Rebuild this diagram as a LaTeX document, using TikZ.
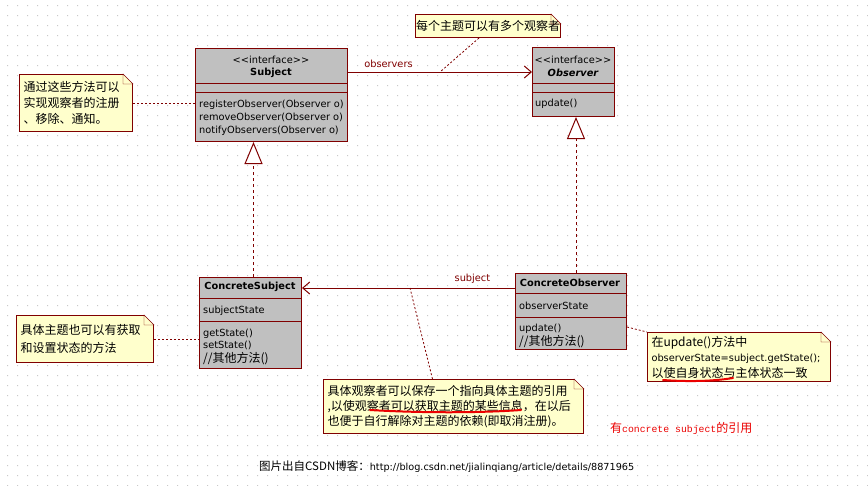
\documentclass[tikz,border=0pt]{standalone}
\usepackage{fontspec}
\newfontfamily\umlfont{DejaVu Sans}
\newfontfamily\cjk{Noto Sans CJK SC}
\newfontfamily\monofont{Liberation Mono}
\usetikzlibrary{arrows.meta, calc}
\definecolor{umlred}{RGB}{128, 0, 0}
\definecolor{umlgray}{RGB}{192, 192, 192}
\definecolor{noteyellow}{RGB}{255, 255, 204}
\definecolor{griddot}{RGB}{200, 200, 200}
\definecolor{hlred}{RGB}{235, 0, 0}

% 便签右上角折角
\newcommand{\notefold}[1]{%
  \fill[white] ($(#1.north east)+(-10,0)$) -- (#1.north east) -- ($(#1.north east)+(0,10)$) -- cycle;
  \draw[umlred] ($(#1.north east)+(-10,0)$) -- ($(#1.north east)+(0,10)$) -- ($(#1.north east)+(-10,10)$) -- cycle;
}

\begin{document}
\begin{tikzpicture}[x=1pt, y=-1pt,
  cls/.style={draw=umlred, fill=umlgray, line width=1pt, anchor=north west, inner sep=0pt},
  lbl/.style={font=\umlfont\fontsize{9.8}{13}\selectfont, inner sep=0pt},
  op/.style={lbl, anchor=base west},
  note/.style={draw=umlred, fill=noteyellow, line width=1pt, anchor=north west, align=left,
    inner xsep=4pt, inner ysep=0pt, font=\cjk\fontsize{12}{16}\selectfont},
  assoc/.style={umlred, line width=1pt, -{Straight Barb[length=7pt, width=12pt]}},
  realize/.style={umlred, line width=1pt, dash pattern=on 3pt off 3pt,
    -{Triangle[open, length=22pt, width=18pt, fill=white]}},
  notelink/.style={umlred, line width=0.8pt, dash pattern=on 2pt off 2pt},
]
  \useasboundingbox (0,0) rectangle (868,485);
  % 背景点阵
  \fill[griddot] \foreach \gx in {7,17,...,867} {\foreach \gy in {5,15,...,485} {(\gx,\gy) rectangle ++(1,1)}};

  % Subject 接口
  \node[cls, minimum width=152pt, minimum height=93pt] (subj) at (195,48) {};
  \draw[umlred] ($(subj.north west)+(0,35)$) -- ($(subj.north east)+(0,35)$);
  \draw[umlred] ($(subj.north west)+(0,44)$) -- ($(subj.north east)+(0,44)$);
  \node[lbl] (subj-st) at (271,60) {<<interface>>};
  \node[lbl, font=\umlfont\bfseries\fontsize{9.8}{13}\selectfont] (subj-nm) at (271,73) {Subject};
  \node[op] (subj-op1) at (199,107) {registerObserver(Observer o)};
  \node[op] (subj-op2) at (199,120) {removeObserver(Observer o)};
  \node[op] (subj-op3) at (199,133) {notifyObservers(Observer o)};

  % Observer 接口
  \node[cls, minimum width=82pt, minimum height=69pt] (obs) at (532,47) {};
  \draw[umlred] ($(obs.north west)+(0,36)$) -- ($(obs.north east)+(0,36)$);
  \draw[umlred] ($(obs.north west)+(0,45)$) -- ($(obs.north east)+(0,45)$);
  \node[lbl] (obs-st) at (573,60) {<<interface>>};
  \node[lbl, font=\umlfont\bfseries\itshape\fontsize{9.8}{13}\selectfont] (obs-nm) at (573,73) {Observer};
  \node[op] (obs-op1) at (535,106) {update()};

  % ConcreteSubject
  \node[cls, minimum width=102pt, minimum height=91pt] (csubj) at (199,277) {};
  \draw[umlred] ($(csubj.north west)+(0,21)$) -- ($(csubj.north east)+(0,21)$);
  \draw[umlred] ($(csubj.north west)+(0,44)$) -- ($(csubj.north east)+(0,44)$);
  \node[lbl, font=\umlfont\bfseries\fontsize{9.8}{13}\selectfont] (csubj-nm) at (250,287) {ConcreteSubject};
  \node[op] (csubj-at) at (203,313) {subjectState};
  \node[op] (csubj-op1) at (203,336) {getState()};
  \node[op] (csubj-op2) at (203,348) {setState()};
  \node[op, font=\cjk\fontsize{12}{13}\selectfont] (csubj-op3) at (203,362) {//其他方法()};

  % ConcreteObserver
  \node[cls, minimum width=111pt, minimum height=76pt] (cobs) at (515,273) {};
  \draw[umlred] ($(cobs.north west)+(0,20)$) -- ($(cobs.north east)+(0,20)$);
  \draw[umlred] ($(cobs.north west)+(0,44)$) -- ($(cobs.north east)+(0,44)$);
  \node[lbl, font=\umlfont\bfseries\fontsize{9.8}{13}\selectfont] (cobs-nm) at (570,283) {ConcreteObserver};
  \node[op] (cobs-at) at (519,309) {observerState};
  \node[op] (cobs-op1) at (519,331) {update()};
  \node[op, font=\cjk\fontsize{12}{13}\selectfont] (cobs-op2) at (519,345) {//其他方法()};

  % 关联与实现
  \draw[assoc] ($(subj.north east)+(0,24)$) -- ($(obs.north west)+(0,25)$)
    node[lbl, pos=0.22, above=4pt] (lbl-obs) {observers};
  \draw[assoc] ($(cobs.north west)+(0,15)$) -- ($(csubj.north east)+(0,11)$)
    node[lbl, pos=0.2, above=4pt] (lbl-subj) {subject};
  \draw[realize] ($(csubj.north)+(3,0)$) -- ($(csubj.north |- subj.south)+(3,0)$);
  \draw[realize] ($(cobs.north)+(5,0)$) -- ($(cobs.north |- obs.south)+(5,0)$);
  \coordinate (assoc1) at (440,72);
  \coordinate (assoc2) at (410,288);

  % 便签
  \node[note, minimum width=145pt, minimum height=23pt, inner xsep=0pt, align=center] (n1) at (415,14) {每个主题可以有多个观察者};
  \notefold{n1}
  \node[note, minimum width=113pt, minimum height=57pt, text width=105pt] (n2) at (19,74)
    {通过这些方法可以\\实现观察者的注册\\、移除、通知。};
  \notefold{n2}
  \node[note, minimum width=137pt, minimum height=47pt, text width=129pt, font=\cjk\fontsize{12}{18}\selectfont] (n3) at (16,315)
    {具体主题也可以有获取\\和设置状态的方法};
  \notefold{n3}
  \node[note, minimum width=183pt, minimum height=49pt, text width=175pt, font=\cjk\fontsize{12}{15.5}\selectfont] (n4) at (647,332)
    {在update()方法中\\{\umlfont\fontsize{9.8}{12}\selectfont observerState=subject.getState();}\\以使自身状态与主体状态一致};
  \notefold{n4}
  \node[note, minimum width=260pt, minimum height=54pt, text width=252pt, font=\cjk\fontsize{12}{15}\selectfont] (n5) at (323,379)
    {具体观察者可以保存一个指向具体主题的引用\\,以使观察者可以获取主题的某些信息，在以后\\也便于自行解除对主题的依赖(即取消注册)。};
  \notefold{n5}

  % 便签连线
  \draw[notelink] ($(n1.south)+(-9,0)$) -- (assoc1);
  \draw[notelink] (n2.east) -- (n2.east -| subj.west);
  \draw[notelink] (n3.east) -- (n3.east -| csubj.west);
  \draw[notelink] ($(cobs.north east)+(0,54)$) -- (n4.north west);
  \draw[notelink] ($(n5.north)+(-21,0)$) -- (assoc2);

  % 红色划线
  \draw[hlred, line width=2pt, line cap=round] (370,410) .. controls (420,413) and (480,413) .. (521,410);
  \draw[hlred, line width=2pt, line cap=round] (663,380) .. controls (690,382) and (715,381) .. (733,378);

  % 附注与出处
  \node[anchor=west, inner sep=0pt, text=hlred] (refnote) at (610,428)
    {{\cjk\fontsize{12}{13}\selectfont 有}{\monofont\fontsize{9.8}{13}\selectfont concrete subject}{\cjk\fontsize{12}{13}\selectfont 的引用}};
  \node[anchor=west, inner sep=0pt] (caption) at (259,467)
    {{\cjk\fontsize{11.5}{13}\selectfont 图片出自CSDN博客：}{\umlfont\fontsize{9.7}{13}\selectfont http://blog.csdn.net/jialinqiang/article/details/8871965}};
\end{tikzpicture}
\end{document}
